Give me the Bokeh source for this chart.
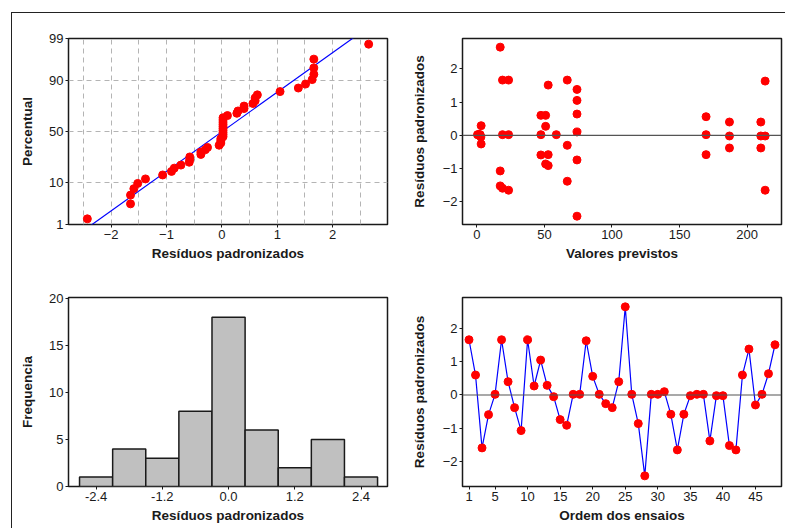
from statistics import NormalDist
import numpy as np
from bokeh.plotting import figure
from bokeh.layouts import column, row
from bokeh.models import Range1d, FixedTicker, Span, CustomJSTickFormatter, NumeralTickFormatter
from bokeh.embed import file_html
from bokeh.resources import INLINE

# ---------------- data ----------------
run_order = list(range(1, 49))
residuals = [1.66, 0.60, -1.59, -0.59, 0.02, 1.66, 0.40, -0.38, -1.07, 1.66,
             0.27, 1.05, 0.29, -0.05, -0.74, -0.91, 0.02, 0.02, 1.63, 0.56,
             0.02, -0.26, -0.38, 0.40, 2.65, 0.02, -0.86, -2.43, 0.02, 0.02,
             0.10, -0.58, -1.65, -0.58, -0.02, 0.02, 0.02, -1.38, -0.02, -0.02,
             -1.52, -1.65, 0.60, 1.38, -0.30, 0.02, 0.64, 1.51]
fitted = [19.0, 47.4, 19.0, 47.4, 1.5, 23.5, 186.9, 186.9, 17.3, 66.9,
          50.9, 74.1, 3.2, 3.0, 74.1, 52.8, 19.0, 23.5, 213.3, 169.6,
          2.0, 3.2, 210.1, 210.1, 17.3, 47.4, 50.9, 74.1, 58.8, 169.6,
          74.1, 52.8, 23.5, 169.6, 186.9, 2.5, 0.5, 66.9, 210.1, 213.3,
          17.3, 213.3, 50.9, 74.1, 66.9, 1.0, 74.1, 52.8]
hist_centers = [-2.4, -1.8, -1.2, -0.6, 0.0, 0.6, 1.2, 1.8, 2.4]
hist_counts = [1, 4, 3, 8, 18, 6, 2, 5, 1]
hist_width = 0.6
prob_tick_pct = [1, 10, 50, 90, 99]
prob_x_ticks = [-2, -1, 0, 1, 2]
prob_x_grid = [-2.5, -2.0, -1.5, -1.0, -0.5, 0.0, 0.5, 1.0, 1.5, 2.0, 2.5]
fit_x_ticks = [0, 50, 100, 150, 200]
order_x_ticks = [1, 5, 10, 15, 20, 25, 30, 35, 40, 45]
res_y_ticks = [-2, -1, 0, 1, 2]
hist_x_ticks = [-2.4, -1.2, 0.0, 1.2, 2.4]
hist_y_ticks = [0, 5, 10, 15, 20]

FONT = "Liberation Sans"
TXT = "#1a1a1a"
RED = "#ff0000"
BLUE = "#0000ff"


def make_fig(width, height, xr, yr, mbl, mbr, mbt, mbb):
    p = figure(width=width, height=height, x_range=Range1d(*xr), y_range=Range1d(*yr),
               output_backend="svg", toolbar_location=None,
               min_border_left=mbl, min_border_right=mbr,
               min_border_top=mbt, min_border_bottom=mbb)
    p.outline_line_color = TXT
    p.outline_line_width = 1.5
    p.background_fill_color = "white"
    p.border_fill_color = "white"
    p.xgrid.visible = False
    p.ygrid.visible = False
    for ax in p.axis:
        ax.axis_line_color = None
        ax.major_tick_out = 3
        ax.major_tick_in = 0
        ax.major_tick_line_color = TXT
        ax.major_tick_line_width = 1
        ax.minor_tick_line_color = None
        ax.major_label_text_font = FONT
        ax.major_label_text_font_size = "13px"
        ax.major_label_text_color = TXT
        ax.major_label_standoff = 2
        ax.axis_label_text_font = FONT
        ax.axis_label_text_font_size = "13.5px"
        ax.axis_label_text_font_style = "bold"
        ax.axis_label_text_color = TXT
    return p


TOP_H = 252
BOT_H = 264
LW = 388
RW = 386

# ---------------- normal probability plot ----------------
nd = NormalDist()
n = len(residuals)
sorted_res = sorted(residuals)
prob_z = [nd.inv_cdf((i + 1 - 0.3) / (n + 0.4)) for i in range(n)]
mu = float(np.mean(residuals))
sd = float(np.std(residuals, ddof=1))
line_z = [nd.inv_cdf(0.002), nd.inv_cdf(0.998)]
line_x = [mu + sd * z for z in line_z]
tick_z = [nd.inv_cdf(v / 100.0) for v in prob_tick_pct]

p1 = make_fig(LW, TOP_H, (-2.77, 2.99), (tick_z[0], tick_z[-1]), 56, 13, 25, 41)
p1.xgrid.visible = True
p1.ygrid.visible = True
p1.xgrid.ticker = FixedTicker(ticks=prob_x_grid)
p1.ygrid.ticker = FixedTicker(ticks=tick_z)
for g in (p1.xgrid, p1.ygrid):
    g.grid_line_color = "#b4b4b4"
    g.grid_line_dash = "5 4"
    g.grid_line_width = 1
p1.xaxis.ticker = FixedTicker(ticks=prob_x_ticks)
p1.yaxis.ticker = FixedTicker(ticks=tick_z)
p1.yaxis.formatter = CustomJSTickFormatter(
    args=dict(zs=tick_z, labs=[str(v) for v in prob_tick_pct]),
    code="for (let i = 0; i < zs.length; i++) { if (Math.abs(tick - zs[i]) < 1e-6) return labs[i]; } return '';")
p1.xaxis.axis_label = "Resíduos padronizados"
p1.yaxis.axis_label = "Percentual"
p1.xaxis.axis_label_standoff = 4
p1.yaxis.axis_label_standoff = 11
p1.line(line_x, line_z, line_color=BLUE, line_width=1.2)
p1.scatter(sorted_res, prob_z, size=8, fill_color=RED, line_color=RED)

# ---------------- residuals vs fitted ----------------
p2 = make_fig(RW, TOP_H, (-10.6, 225.4), (-2.68, 2.91), 62, 5, 25, 41)
p2.xaxis.ticker = FixedTicker(ticks=fit_x_ticks)
p2.yaxis.ticker = FixedTicker(ticks=res_y_ticks)
p2.xaxis.axis_label = "Valores previstos"
p2.yaxis.axis_label = "Resíduos padronizados"
p2.xaxis.axis_label_standoff = 4
p2.yaxis.axis_label_standoff = 13
p2.add_layout(Span(location=0, dimension="width", line_color="#555555", line_width=1.2))
p2.scatter(fitted, residuals, size=8, fill_color=RED, line_color=RED)

# ---------------- histogram ----------------
p3 = make_fig(LW, BOT_H, (-2.90, 2.88), (0, 20.1), 56, 13, 32, 43)
p3.xaxis.ticker = FixedTicker(ticks=hist_x_ticks)
p3.xaxis.formatter = NumeralTickFormatter(format="0.0")
p3.yaxis.ticker = FixedTicker(ticks=hist_y_ticks)
p3.xaxis.axis_label = "Resíduos padronizados"
p3.yaxis.axis_label = "Frequencia"
p3.xaxis.axis_label_standoff = 4
p3.yaxis.axis_label_standoff = 11
p3.vbar(x=hist_centers, top=hist_counts, bottom=0, width=hist_width,
        fill_color="#c0c0c0", line_color=TXT, line_width=1.5)

# ---------------- residuals vs order ----------------
p4 = make_fig(RW, BOT_H, (0.0, 49.0), (-2.75, 2.93), 62, 5, 32, 43)
p4.xaxis.ticker = FixedTicker(ticks=order_x_ticks)
p4.yaxis.ticker = FixedTicker(ticks=res_y_ticks)
p4.xaxis.axis_label = "Ordem dos ensaios"
p4.yaxis.axis_label = "Resíduos padronizados"
p4.xaxis.axis_label_standoff = 4
p4.yaxis.axis_label_standoff = 13
p4.add_layout(Span(location=0, dimension="width", line_color="#555555", line_width=1.2))
p4.line(run_order, residuals, line_color=BLUE, line_width=1.2)
p4.scatter(run_order, residuals, size=8, fill_color=RED, line_color=RED)

layout = column(row(p1, p2), row(p3, p4),
                styles={"margin-left": "12px", "margin-top": "13px",
                        "box-shadow": "-1px -1px 0px 0px #222222"})

open("out.html", "w").write(file_html(layout, INLINE))
